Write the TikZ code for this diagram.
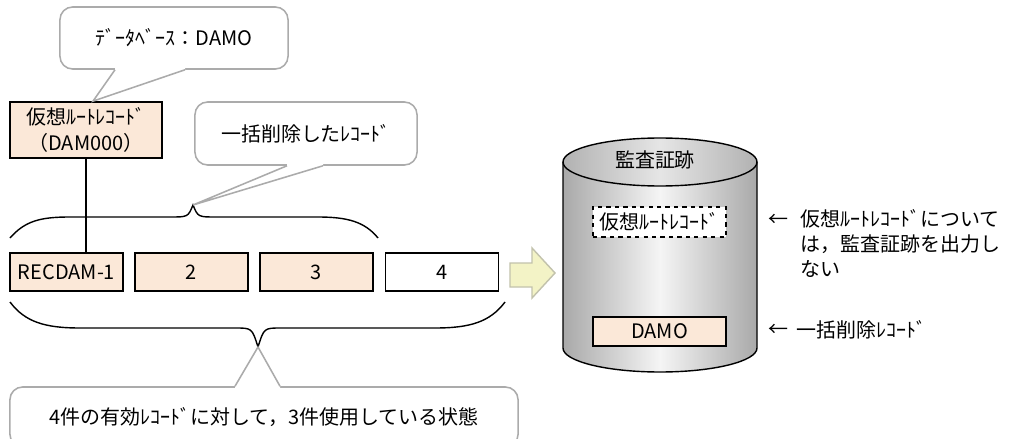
\documentclass[tikz,border=0pt]{standalone}
\usepackage{fontspec}
\setmainfont{Noto Sans CJK JP}
\usepackage{tikz}
\usetikzlibrary{positioning,calc}
\definecolor{mPeach}{HTML}{FBE8D8}
\definecolor{mCall}{HTML}{ABABAB}
\definecolor{mArrow}{HTML}{F3F3C6}
\definecolor{mArrowEdge}{HTML}{C2C2AC}
\definecolor{mDrum}{HTML}{A9A9A9}
\tikzset{
  recbox/.style={draw,line width=1.2pt,minimum width=2.825cm,minimum height=0.95cm,inner sep=0pt},
  callout/.style={draw=mCall,line width=1.1pt,rounded corners=9pt,fill=white,inner sep=0pt},
  tail/.style={draw=mCall,line width=1.1pt},
  brace/.style={line width=1pt},
}
% tail of a callout: base left, base right, tip, inward shift
\newcommand{\calltail}[4]{%
  \fill[white] ($(#1)+(0,#4)$) -- (#1) -- (#3) -- (#2) -- ($(#2)+(0,#4)$) -- cycle;
  \draw[tail] (#1) -- (#3) -- (#2);}

\begin{document}
\begin{tikzpicture}[x=0.025cm,y=-0.025cm,font=\fontsize{14.2}{18}\selectfont]
  \useasboundingbox (0,0) rectangle (1012,439);
  \clip (0,0) rectangle (1012,439);
  \fill[white] (0,0) rectangle (1012,439);

  % records
  \foreach \n/\x/\c/\t in {1/66.5/mPeach/RECDAM-1, 2/191.5/mPeach/2,
      3/316.5/mPeach/3, 4/442/white/4}
    \node[recbox,fill=\c] (rec\n) at (\x,272) {\t};

  \node[recbox,fill=mPeach,minimum width=3.8cm,minimum height=1.4cm,align=center]
    (root) at (86,130) {仮想ﾙｰﾄﾚｺｰﾄﾞ\\（DAM000）};
  \draw[line width=1pt] (root.south) -- (root.south |- rec1.north);

  % braces
  \draw[brace] (10,238) .. controls (25,221) and (40,217) .. (70,217) -- (170,217)
    .. controls (188,217) .. (193,205) coordinate (deltip)
    .. controls (198,217) .. (216,217) -- (318,217)
    .. controls (348,217) and (365,222) .. (378,238);
  \draw[brace] (10,302) .. controls (25,322) and (45,328) .. (80,328) -- (235,328)
    .. controls (252,328) .. (258,347) coordinate (alltip)
    .. controls (264,328) .. (281,328) -- (435,328)
    .. controls (470,328) and (490,322) .. (505,302);

  % callouts
  \node[callout,minimum width=5.7cm,minimum height=1.55cm] (dbnote) at (174,38) {ﾃﾞｰﾀﾍﾞｰｽ：DAMO};
  \coordinate (dbtip) at ($(root.north)+(7,0)$);
  \calltail{$(dbnote.south)+(-59,0)$}{$(dbnote.south)+(11,0)$}{dbtip}{-2}

  \node[callout,minimum width=5.55cm,minimum height=1.575cm] (delnote) at (306,133.5) {一括削除したﾚｺｰﾄﾞ};
  \calltail{$(delnote.south)+(-19,0)$}{$(delnote.south)+(17,0)$}{deltip}{-2}

  \node[callout,minimum width=12.7cm,minimum height=1.5cm] (usenote) at (264,417) {4件の有効ﾚｺｰﾄﾞに対して，3件使用している状態};
  \calltail{$(usenote.north)+(-29,0)$}{$(usenote.north)+(16,0)$}{alltip}{2}

  % arrow
  \draw[fill=mArrow,draw=mArrowEdge,line width=1pt] (510,263) -- (532,263) -- (532,248)
    -- (555,273) -- (532,298) -- (532,287) -- (510,287) -- cycle;

  % audit trail drum
  \shade[left color=mDrum,right color=mDrum,middle color=gray!8]
    (563,162) -- (563,348) arc[start angle=180,end angle=0,x radius=97,y radius=24] -- (757,162) -- cycle;
  \draw[line width=1pt] (563,162) -- (563,348) arc[start angle=180,end angle=0,x radius=97,y radius=24] -- (757,162);
  \shade[left color=mDrum!90,right color=mDrum!90,middle color=gray!20] (660,162) ellipse[x radius=97,y radius=24];
  \draw[line width=1pt] (660,162) ellipse[x radius=97,y radius=24];
  \node (drum) at (655,160) {監査証跡};

  \node[draw,dashed,line width=1pt,fill=white,minimum width=3.325cm,minimum height=0.75cm,inner sep=0pt]
    (virt) at (659.5,222) {仮想ﾙｰﾄﾚｺｰﾄﾞ};
  \node[recbox,fill=mPeach,minimum width=3.325cm,minimum height=0.725cm] (damo) at (659.5,331.5) {DAMO};

  % notes
  \node[anchor=west,inner sep=0pt] (virtarr) at (768,220) {←};
  \node[anchor=north west,align=left,inner sep=0pt] (virtnote) at (800,209)
    {仮想ﾙｰﾄﾚｺｰﾄﾞについて\\は，監査証跡を出力し\\ない};
  \node[anchor=west,inner sep=0pt] (delarr) at (768,330) {←};
  \node[right=0.2cm of delarr,inner sep=0pt] (delrec) {一括削除ﾚｺｰﾄﾞ};
\end{tikzpicture}
\end{document}
